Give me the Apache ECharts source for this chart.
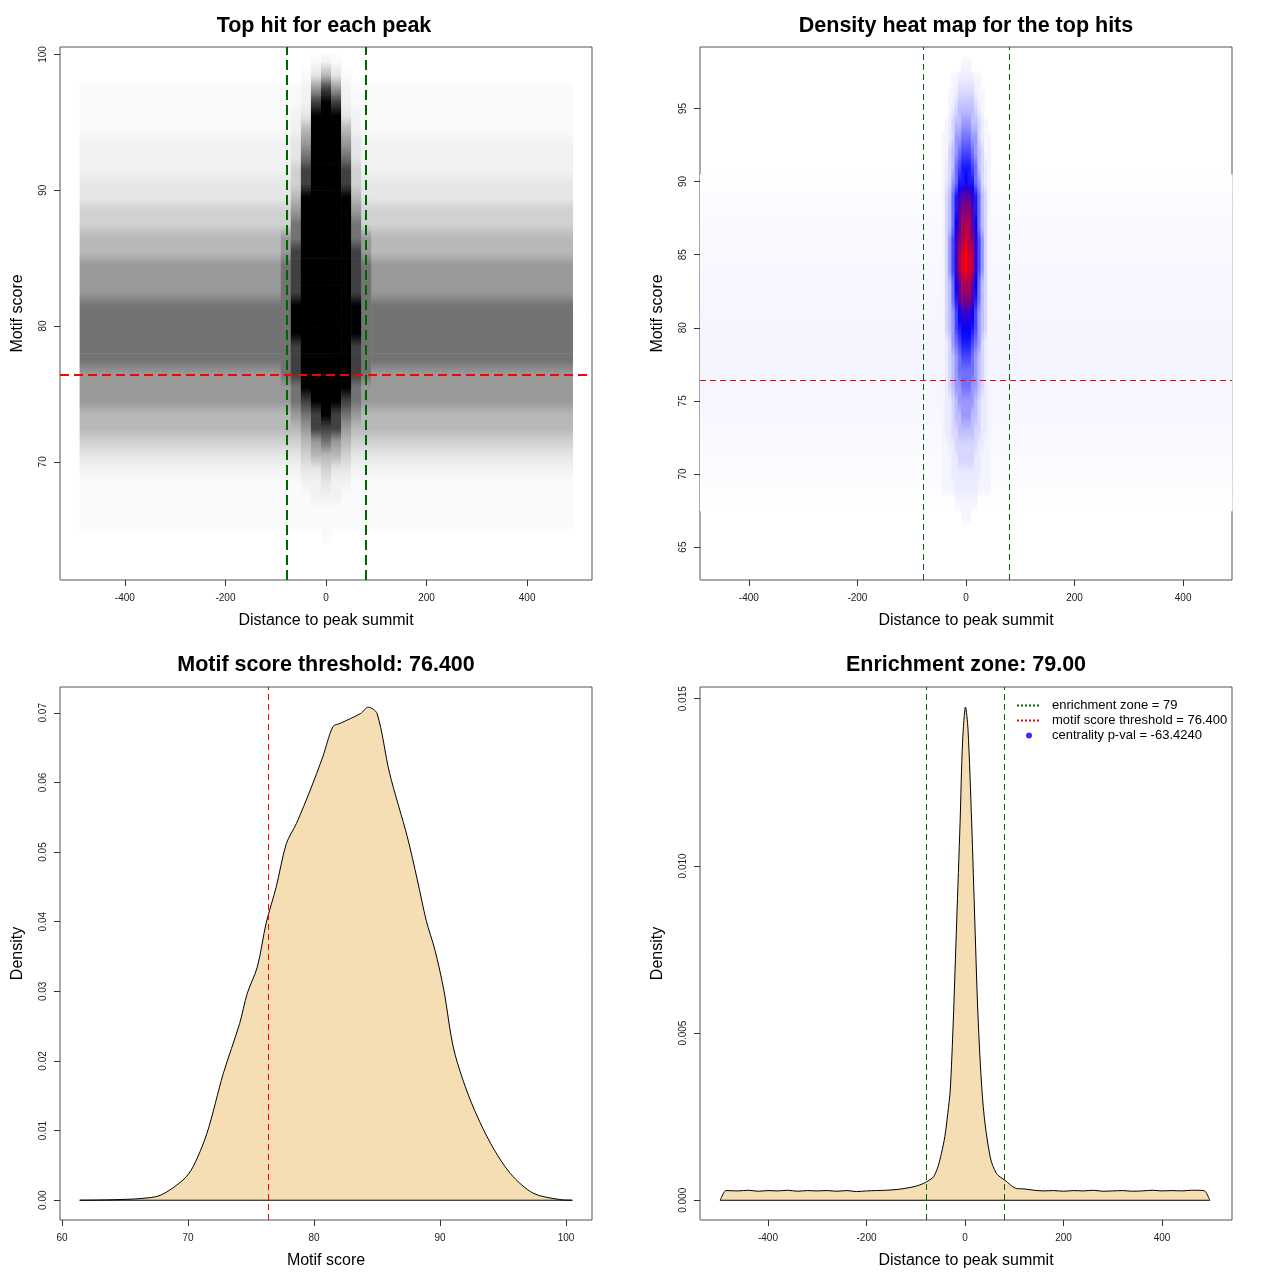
<!DOCTYPE html>
<html>
<head>
<meta charset="utf-8">
<title>Top hits around peak summits</title>
<script src="https://cdn.jsdelivr.net/npm/echarts@6.0.0/dist/echarts.min.js"></script>
<style>
  html, body { margin: 0; padding: 0; background: #fff; }
  #main { width: 1280px; height: 1280px; }
</style>
</head>
<body>
<div id="main"></div>
<script>
var FONT = 'Liberation Sans';

var enrichZone = 79;
var scoreThreshold = 76.4;

// --- top left: darkness of the dot cloud, one row per unit of motif score (y .. y+1)
var scatterRowY = [99,98,97,96,95,94,93,92,91,90,89,88,87,86,85,84,83,82,81,80,
                   79,78,77,76,75,74,73,72,71,70,69,68,67,66,65,64,63,62];
// far from the summit (|x| > 90)
var scatterOuter = [0,0,1,1,1,1,2,2,2,3,3,4,4,5,5,6,6,6,7,7,
                    7,7,7,6,6,6,5,5,4,3,2,1,1,1,1,0,0,0];
// near the summit, 20-wide bins centred on these distances
var scatterCoreX = [-80,-60,-40,-20,0,20,40,60,80];
var scatterCore = [
  "000121000","001353100","112686211","112898211","123999321","125999521",
  "236999632","237999732","248999842","348999843","359999953","469999964",
  "479999974","679999976","689999986","789999987","789999987","789999987",
  "799999997","799999997","799999997","789999987","789999987","789999987",
  "679999976","678999876","567898765","556888655","445676544","334555433",
  "223343322","112232211","111222111","111111111","111111111","000010000",
  "000000000","000000000"
];
var scatterDark = [0, 0.02, 0.05, 0.1, 0.18, 0.28, 0.4, 0.55, 0.75, 1];
var scatterSpan = [-490, 490];

// --- top right: 2d density, rows centred on score, columns 6 wide
var heatRowY = [98,97,96,95,94,93,92,91,90,89,88,87,86,85,84,83,82,81,80,79,
                78,77,76,75,74,73,72,71,70,69,68,67];
var heatCols = [-42,-36,-30,-24,-18,-12,-6,0,6,12,18,24,30,36,42];
var heatGrid = [
  "000000111000000","000112222211000","001123333321100","001234444432100",
  "012344555443210","112355666553211","113456777654311","123467888764321",
  "123568898865321","13468abbba86431","13468bcccb86431","13469bdddb96431",
  "1357acdedca7531","1357adefeda7531","1357adefeda7531","13469bdddb96431",
  "13468bcccb86431","134579aaa975431","134578999875431","123567888765321",
  "123456777654321","123456666654321","123455666554321","122345555543221",
  "122344555443221","122334444433221","112233333332211","111223333322111",
  "111222222222111","111122222221111","000011111110000","000000111000000"
];
var heatLevels = [0,0.02,0.04,0.08,0.13,0.2,0.28,0.36,0.45,0.52,0.6,0.68,0.76,0.84,0.92,1];
// faint haze over the whole distance range
var heatBgY = [90,89,88,87,86,85,84,83,82,81,80,79,78,77,76,75,74,73,72,71,70,69,68];
var heatBgV = [0.002,0.006,0.01,0.011,0.012,0.013,0.015,0.016,0.017,0.018,0.019,0.02,
               0.02,0.019,0.018,0.017,0.015,0.013,0.011,0.009,0.007,0.004,0.001];

// --- bottom left: density of motif score
var scoreX = [61.4,63,64.6,66.2,67.8,69.6,70.4,71.5,72.8,74.1,74.7,75.5,76.2,77.0,77.8,78.6,
              79.7,80.7,81.5,82.1,83.7,84.3,85.0,86.0,87.4,88.2,88.9,89.6,90.3,91.1,92.4,94.0,
              95.6,97.4,99.5,100.5];
var scoreDensity = [0,0.00003,0.0001,0.00024,0.0007,0.0029,0.0048,0.0096,0.0182,0.0254,0.0297,
                    0.0335,0.0398,0.045,0.0512,0.0541,0.0589,0.0637,0.068,0.0685,0.0699,0.0708,
                    0.0699,0.0613,0.0522,0.046,0.0402,0.0359,0.0302,0.0216,0.0144,0.0082,0.0038,
                    0.001,0.0001,0];

// --- bottom right: density of distance to summit
var distX = [-497,-490,-485,-460,-440,-420,-400,-380,-360,-340,-320,-300,-280,-260,-240,-220,
             -200,-180,-160,-140,-120,-100,-85,-75,-64,-55,-48,-41,-35,-30,-24,-17,-10,-5,1,
             6,13.5,20,27,37,51,64,81,105,120,140,160,180,200,220,240,260,280,300,320,340,360,
             380,400,420,440,460,485,490,497];
var distDensity = [0,0.00022,0.00029,0.00028,0.0003,0.00027,0.00029,0.00028,0.0003,0.00027,
                   0.00029,0.00028,0.00029,0.00027,0.00029,0.00026,0.00028,0.00029,0.0003,
                   0.00032,0.00036,0.00042,0.0005,0.00058,0.0007,0.001,0.0014,0.0019,0.0026,
                   0.0033,0.0053,0.0083,0.0113,0.0137,0.01475,0.0141,0.0113,0.0083,0.0053,
                   0.0028,0.0013,0.0008,0.0006,0.00035,0.00034,0.0003,0.00028,0.00029,0.00027,
                   0.00029,0.00028,0.0003,0.00027,0.00028,0.00029,0.00027,0.00028,0.0003,
                   0.00028,0.00029,0.00028,0.0003,0.00029,0.00022,0];

var legendNames = ['enrichment zone = 79', 'motif score threshold = 76.400', 'centrality p-val = -63.4240'];

function grayColor(d) {
  var c = Math.round(255 * (1 - Math.max(0, Math.min(1, d))));
  return 'rgb(' + c + ',' + c + ',' + c + ')';
}
// white -> blue -> red
function heatColor(v) {
  v = Math.max(0, Math.min(1, v));
  var t;
  if (v <= 0.5) {
    t = v / 0.5;
    var c = Math.round(255 * (1 - t));
    return 'rgb(' + c + ',' + c + ',255)';
  }
  t = (v - 0.5) / 0.5;
  return 'rgb(' + Math.round(255 * t) + ',0,' + Math.round(255 * (1 - t)) + ')';
}
// each cell: [x0, x1, y0, y1, value, value at top edge, value at bottom edge]
function rectItem(colorOf) {
  return function (params, api) {
    var a = api.coord([api.value(0), api.value(3)]);
    var b = api.coord([api.value(1), api.value(2)]);
    return {
      type: 'rect',
      shape: { x: a[0], y: a[1], width: b[0] - a[0] + 0.6, height: b[1] - a[1] + 0.6 },
      style: {
        fill: {
          type: 'linear', x: 0, y: 0, x2: 0, y2: 1,
          colorStops: [
            { offset: 0, color: colorOf(api.value(5)) },
            { offset: 0.5, color: colorOf(api.value(4)) },
            { offset: 1, color: colorOf(api.value(6)) }
          ]
        }
      }
    };
  };
}
// rows run from the top down; spans[k] = [x0, x1] of column k; vals[i][k]
function shadedCells(rowY, rowH, spans, vals, skipZero) {
  var out = [];
  rowY.forEach(function (y, i) {
    spans.forEach(function (s, k) {
      var v = vals[i][k];
      if (skipZero && !(v > 0)) return;
      var up = i > 0 ? vals[i - 1][k] : 0;
      var down = i < rowY.length - 1 ? vals[i + 1][k] : 0;
      out.push([s[0], s[1], y - rowH / 2, y + rowH / 2, v, (v + up) / 2, (v + down) / 2]);
    });
  });
  return out;
}

var scatterSpans = [[scatterSpan[0], scatterCoreX[0] - 10]];
scatterCoreX.forEach(function (x) { scatterSpans.push([x - 10, x + 10]); });
scatterSpans.push([scatterCoreX[scatterCoreX.length - 1] + 10, scatterSpan[1]]);
var scatterVals = scatterRowY.map(function (y, i) {
  var o = scatterDark[scatterOuter[i]];
  var row = [o];
  for (var j = 0; j < scatterCoreX.length; j++) row.push(scatterDark[+scatterCore[i].charAt(j)]);
  row.push(o);
  return row;
});
var scatterCells = shadedCells(scatterRowY.map(function (y) { return y + 0.5; }), 1,
                               scatterSpans, scatterVals, true);

var heatCells = shadedCells(heatBgY, 1, [scatterSpan], heatBgV.map(function (v) { return [v]; }), false)
  .concat(shadedCells(heatRowY, 1,
    heatCols.map(function (x) { return [x - 3, x + 3]; }),
    heatGrid.map(function (row) {
      return row.split('').map(function (ch) { return heatLevels[parseInt(ch, 16)]; });
    }), true));

function pairs(xs, ys) {
  return xs.map(function (x, i) { return [x, ys[i]]; });
}

function xAxisOf(gi, min, max, ticks, fmt, name) {
  return {
    type: 'value', gridIndex: gi, min: min, max: max,
    name: name, nameLocation: 'middle', nameGap: 33,
    nameTextStyle: { fontSize: 16, color: '#000', fontFamily: FONT },
    axisLine: { show: false, onZero: false },
    splitLine: { show: false },
    axisTick: { show: true, length: 6, customValues: ticks, lineStyle: { color: '#333' } },
    axisLabel: { show: true, customValues: ticks, fontSize: 10, color: '#222', margin: 13,
                 fontFamily: FONT, formatter: fmt }
  };
}
function yAxisOf(gi, min, max, ticks, fmt, name) {
  return {
    type: 'value', gridIndex: gi, min: min, max: max,
    name: name, nameLocation: 'middle', nameGap: 34,
    nameTextStyle: { fontSize: 16, color: '#000', fontFamily: FONT },
    axisLine: { show: false, onZero: false },
    splitLine: { show: false },
    axisTick: { show: true, length: 6, customValues: ticks, lineStyle: { color: '#333' } },
    axisLabel: { show: true, customValues: ticks, fontSize: 10, color: '#222', margin: 12,
                 rotate: 90, fontFamily: FONT, formatter: fmt }
  };
}
function plain(v) { return String(v); }
function fixed(n) { return function (v) { return v.toFixed(n); }; }

var distTicks = [-400, -200, 0, 200, 400];
var gridBox = { show: true, borderColor: '#555', borderWidth: 1, backgroundColor: 'transparent' };
function gridAt(left, top) {
  return Object.assign({ left: left, top: top, width: 532, height: 533 }, gridBox);
}
function titleAt(text, x, top) {
  return { text: text, left: x, top: top, textAlign: 'center', padding: 0,
           textStyle: { fontSize: 21.5, fontWeight: 'bold', color: '#000', fontFamily: FONT } };
}
function vLine(x, color, width, dash) {
  return { xAxis: x, lineStyle: { color: color, width: width, type: dash } };
}
function hLine(y, color, width, dash) {
  return { yAxis: y, lineStyle: { color: color, width: width, type: dash } };
}
function guides(gi, lines) {
  return {
    type: 'line', xAxisIndex: gi, yAxisIndex: gi, data: [], z: 5, silent: true,
    markLine: { silent: true, symbol: ['none', 'none'], label: { show: false }, animation: false, data: lines }
  };
}

var chart = echarts.init(document.getElementById('main'));
chart.setOption({
  animation: false,
  backgroundColor: '#fff',
  title: [
    titleAt('Top hit for each peak', 324, 15),
    titleAt('Density heat map for the top hits', 966, 15),
    titleAt('Motif score threshold: 76.400', 326, 654),
    titleAt('Enrichment zone: 79.00', 966, 654)
  ],
  grid: [gridAt(60, 47), gridAt(700, 47), gridAt(60, 687), gridAt(700, 687)],
  xAxis: [
    xAxisOf(0, -529, 529, distTicks, plain, 'Distance to peak summit'),
    xAxisOf(1, -490, 490, distTicks, plain, 'Distance to peak summit'),
    xAxisOf(2, 59.84, 102.06, [60, 70, 80, 90, 100], plain, 'Motif score'),
    xAxisOf(3, -538, 542, distTicks, plain, 'Distance to peak summit')
  ],
  yAxis: [
    yAxisOf(0, 61.3, 100.55, [70, 80, 90, 100], plain, 'Motif score'),
    yAxisOf(1, 62.75, 99.2, [65, 70, 75, 80, 85, 90, 95], plain, 'Motif score'),
    yAxisOf(2, -0.00284, 0.0737, [0, 0.01, 0.02, 0.03, 0.04, 0.05, 0.06, 0.07], fixed(2), 'Density'),
    yAxisOf(3, -0.00059, 0.01535, [0, 0.005, 0.01, 0.015], fixed(3), 'Density')
  ],
  legend: {
    left: 1011, top: 694, orient: 'vertical', selectedMode: false,
    itemWidth: 24, itemHeight: 6, itemGap: 2,
    textStyle: { fontSize: 13, color: '#000', fontFamily: FONT, padding: [0, 0, 0, 6] },
    data: [
      { name: legendNames[0], itemStyle: { opacity: 0 } },
      { name: legendNames[1], itemStyle: { opacity: 0 } },
      { name: legendNames[2] }
    ]
  },
  series: [
    {
      type: 'custom', xAxisIndex: 0, yAxisIndex: 0, silent: true, z: 2,
      renderItem: rectItem(grayColor), encode: { x: [0, 1], y: [2, 3] }, data: scatterCells
    },
    guides(0, [
      vLine(-enrichZone, '#006400', 2, [10, 5]),
      vLine(enrichZone, '#006400', 2, [10, 5]),
      hLine(scoreThreshold, 'red', 2, [9, 5])
    ]),
    {
      type: 'custom', xAxisIndex: 1, yAxisIndex: 1, silent: true, z: 2,
      renderItem: rectItem(heatColor), encode: { x: [0, 1], y: [2, 3] }, data: heatCells
    },
    guides(1, [
      vLine(-enrichZone, '#006400', 1, [6, 4]),
      vLine(enrichZone, '#006400', 1, [6, 4]),
      hLine(scoreThreshold, 'red', 1, [6, 4])
    ]),
    {
      type: 'line', xAxisIndex: 2, yAxisIndex: 2, silent: true, z: 3,
      data: pairs(scoreX, scoreDensity), smooth: 0.3, symbol: 'none',
      lineStyle: { color: '#000', width: 1 },
      areaStyle: { color: '#F5DEB3', opacity: 1 }
    },
    {
      type: 'line', xAxisIndex: 2, yAxisIndex: 2, silent: true, z: 3, symbol: 'none',
      data: [[scoreX[0], 0], [scoreX[scoreX.length - 1], 0]],
      lineStyle: { color: '#000', width: 1 }
    },
    guides(2, [vLine(scoreThreshold, 'red', 1, [6, 4])]),
    {
      type: 'line', xAxisIndex: 3, yAxisIndex: 3, silent: true, z: 3,
      data: pairs(distX, distDensity), smooth: 0.3, symbol: 'none',
      lineStyle: { color: '#000', width: 1 },
      areaStyle: { color: '#F5DEB3', opacity: 1 }
    },
    {
      type: 'line', xAxisIndex: 3, yAxisIndex: 3, silent: true, z: 3, symbol: 'none',
      data: [[distX[0], 0], [distX[distX.length - 1], 0]],
      lineStyle: { color: '#000', width: 1 }
    },
    guides(3, [
      vLine(-enrichZone, '#006400', 1, [6, 4]),
      vLine(enrichZone, '#006400', 1, [6, 4])
    ]),
    {
      name: legendNames[0], type: 'line', xAxisIndex: 3, yAxisIndex: 3, data: [], symbol: 'none',
      itemStyle: { color: '#006400' },
      lineStyle: { color: '#006400', type: 'dotted', width: 1 }
    },
    {
      name: legendNames[1], type: 'line', xAxisIndex: 3, yAxisIndex: 3, data: [], symbol: 'none',
      itemStyle: { color: 'red' },
      lineStyle: { color: 'red', type: 'dotted', width: 1 }
    },
    {
      name: legendNames[2], type: 'scatter', xAxisIndex: 3, yAxisIndex: 3, data: [],
      symbol: 'circle', itemStyle: { color: 'blue' }
    }
  ]
});
</script>
</body>
</html>
